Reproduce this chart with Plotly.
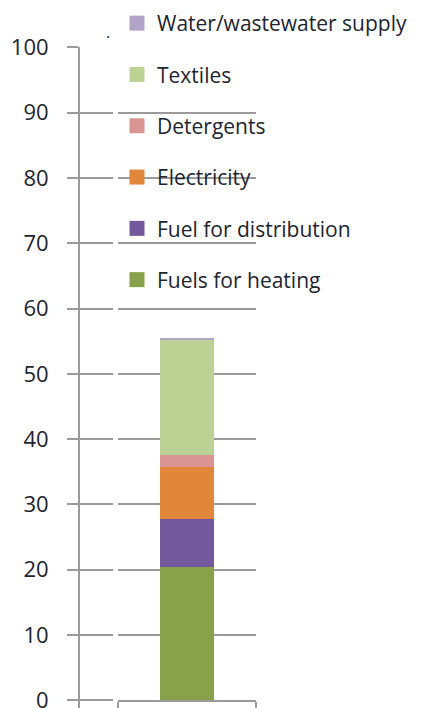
import plotly.graph_objects as go

category = ["Total"]
series_names = ["Fuels for heating", "Fuel for distribution", "Electricity",
                "Detergents", "Textiles", "Water/wastewater supply"]
series_values = [20.4, 7.3, 8.1, 1.7, 17.7, 0.3]
series_colors = ["#87a24b", "#73589b", "#e0873c", "#d99594", "#bcd194", "#b2a3c9"]
y_ticks = [0, 10, 20, 30, 40, 50, 60, 70, 80, 90, 100]

W, H = 429, 708
FONT = "Open Sans"
TXT = "#1e2430"
GRID = "#9a9a9a"
FS = 21

fig = go.Figure()
for i, (name, val, col) in enumerate(zip(series_names, series_values, series_colors)):
    fig.add_trace(go.Bar(
        x=category, y=[val], name=name, marker=dict(color=col, line=dict(width=0)),
        width=0.39, showlegend=False, xaxis="x", yaxis="y",
    ))
    # legend proxy with a larger square swatch
    fig.add_trace(go.Scatter(
        x=category, y=[None], name=name, mode="markers",
        marker=dict(symbol="square", size=15, color=col),
        legendgroup=f"g{i}", legendrank=100 - i, hoverinfo="skip",
    ))

# dummy traces to register the free y axes
for ax in ["y2", "y3"]:
    fig.add_trace(go.Scatter(x=category, y=[None], yaxis=ax, mode="markers",
                             showlegend=False, hoverinfo="skip"))

y0_px, y100_px = 700.3, 47.3
unit = (y0_px - y100_px) / 100.0
dom_bot = 1 - y0_px / H
dom_top = 1 - y100_px / H
free_min = -(H - y0_px) / unit
axis_pos = 79 / W

fig.update_layout(
    width=W, height=H,
    margin=dict(l=0, r=0, t=0, b=0, autoexpand=False),
    paper_bgcolor="white", plot_bgcolor="rgba(0,0,0,0)",
    barmode="stack",
    font=dict(family=FONT, color=TXT, size=FS),
    xaxis=dict(domain=[118 / W, 256 / W], showticklabels=False, showgrid=False,
               showline=True, linecolor=GRID, linewidth=2, ticks="outside",
               tickson="boundaries", ticklen=8, tickcolor=GRID, tickwidth=2,
               range=[-0.5, 0.5], fixedrange=True, automargin=False),
    yaxis=dict(domain=[dom_bot, dom_top], range=[0, 100], tickvals=y_ticks,
               showticklabels=False, showgrid=True, gridcolor=GRID, gridwidth=2,
               showline=False, zeroline=False, ticks="", automargin=False),
    yaxis2=dict(anchor="free", position=axis_pos, domain=[0, dom_top],
                range=[free_min, 100], tickvals=y_ticks, showgrid=False,
                zeroline=False, showline=True, linecolor=GRID, linewidth=2,
                ticks="outside", ticklen=11, tickwidth=2, tickcolor=GRID,
                tickfont=dict(family=FONT, size=22, color=TXT),
                ticklabelstandoff=14, ticklabeloverflow="allow", automargin=False),
    yaxis3=dict(anchor="free", position=axis_pos, domain=[0, dom_top],
                range=[free_min, 100], tickvals=y_ticks, showgrid=False,
                zeroline=False, showline=False, showticklabels=False,
                ticks="inside", ticklen=33, tickwidth=2, tickcolor=GRID,
                automargin=False),
    legend=dict(x=117 / W, y=1 - 3 / H, xanchor="left", yanchor="top",
                traceorder="grouped", tracegroupgap=21, itemsizing="trace",
                bgcolor="rgba(0,0,0,0)", font=dict(family=FONT, size=FS, color=TXT)),
    showlegend=True,
    annotations=[dict(text=".", x=104 / W, y=1 - 19 / H, xref="paper", yref="paper",
                      showarrow=False, font=dict(size=16, color="#222"))],
)

fig.write_html("out.html", config={"displayModeBar": False},
               post_script="document.body.style.margin='0px';")
